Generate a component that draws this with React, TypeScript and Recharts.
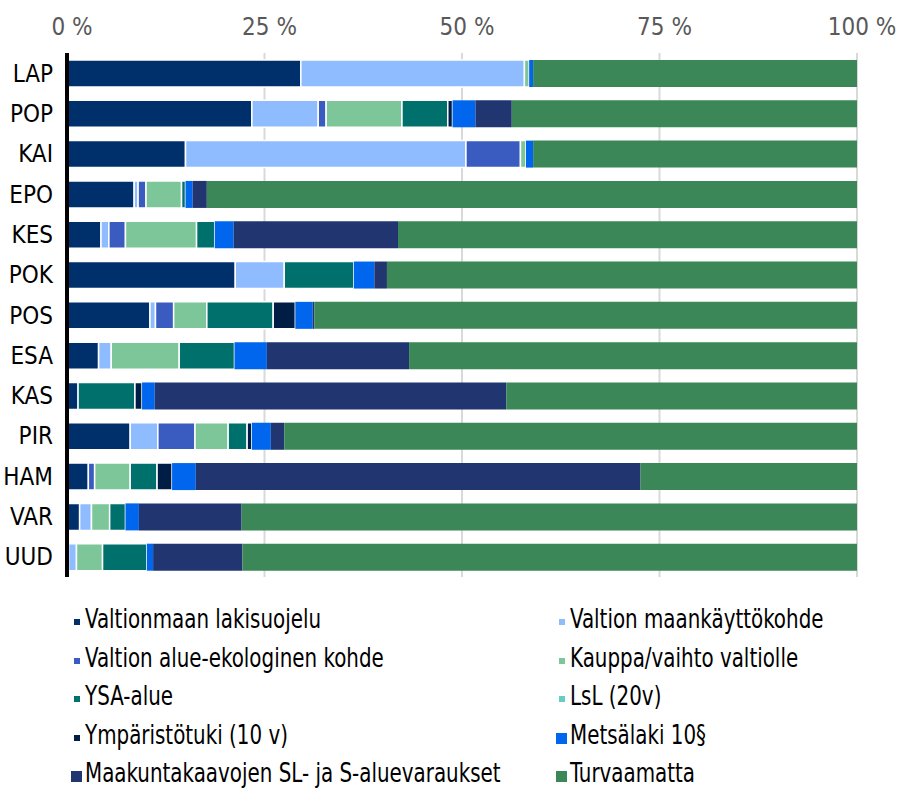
import { BarChart, Bar, XAxis, YAxis, CartesianGrid } from 'recharts';

const regions = ['LAP', 'POP', 'KAI', 'EPO', 'KES', 'POK', 'POS', 'ESA', 'KAS', 'PIR', 'HAM', 'VAR', 'UUD'];

// osuudet (%) maakunnittain
const valtionmaan = [29.6, 23.4, 15.0, 8.5, 4.3, 21.3, 10.5, 4.0, 1.4, 8.0, 2.7, 1.6, 0.2];
const maankaytto = [28.3, 8.4, 35.5, 0.5, 1.0, 6.2, 0.7, 1.6, 0, 3.5, 0, 1.5, 1.0];
const alueEko = [0, 1.0, 6.9, 1.0, 2.1, 0, 2.3, 0, 0, 4.7, 0.8, 0, 0];
const kauppa = [0.6, 9.6, 0.7, 4.5, 9.0, 0, 4.2, 8.6, 0, 4.2, 4.5, 2.3, 3.3];
const ysa = [0, 5.8, 0, 0.5, 2.3, 8.8, 8.4, 7.0, 7.2, 2.4, 3.4, 2.0, 5.6];
const lsl = [0, 0, 0, 0, 0, 0, 0, 0, 0, 0, 0, 0, 0];
const ymparistotuki = [0, 0.6, 0, 0, 0, 0, 2.8, 0, 0.9, 0.6, 1.9, 0, 0];
const metsalaki = [0.5, 2.9, 0.9, 0.9, 2.4, 2.6, 2.2, 4.1, 1.6, 2.4, 3.0, 1.7, 0.8];
const maakunta = [0, 4.6, 0, 1.8, 20.8, 1.6, 0.2, 18.0, 44.5, 1.7, 56.3, 13.0, 11.3];
const turvaamatta = [41.0, 43.7, 41.0, 82.3, 58.1, 59.5, 68.7, 56.7, 44.4, 72.5, 27.4, 77.9, 77.8];

const xTicks = [0, 25, 50, 75, 100];

const series = [
  { key: 'valtionmaan', name: 'Valtionmaan lakisuojelu', color: '#00306b', values: valtionmaan, border: true },
  { key: 'maankaytto', name: 'Valtion maankäyttökohde', color: '#8fbcff', values: maankaytto, border: true },
  { key: 'alueEko', name: 'Valtion alue-ekologinen kohde', color: '#3a5bbf', values: alueEko, border: true },
  { key: 'kauppa', name: 'Kauppa/vaihto valtiolle', color: '#7cc69a', values: kauppa, border: true },
  { key: 'ysa', name: 'YSA-alue', color: '#00706c', values: ysa, border: true },
  { key: 'lsl', name: 'LsL (20v)', color: '#66ccc4', values: lsl, border: true },
  { key: 'ymparistotuki', name: 'Ympäristötuki (10 v)', color: '#001e45', values: ymparistotuki, border: true },
  { key: 'metsalaki', name: 'Metsälaki 10§', color: '#0066ee', values: metsalaki, border: false },
  { key: 'maakunta', name: 'Maakuntakaavojen SL- ja S-aluevaraukset', color: '#213670', values: maakunta, border: false },
  { key: 'turvaamatta', name: 'Turvaamatta', color: '#3b8757', values: turvaamatta, border: false },
];

const data = regions.map((region, i) => {
  const row: Record<string, string | number> = { region };
  series.forEach((s) => {
    row[s.key] = s.values[i];
  });
  return row;
});

const FONT = "'DejaVu Sans Condensed', 'DejaVu Sans', sans-serif";

function LegendItem({ s, x, y }: { s: (typeof series)[number]; x: number; y: number }) {
  const size = s.border ? 6 : 11;
  return (
    <div style={{ position: 'absolute', left: x, top: y - 17, height: 34, display: 'flex', alignItems: 'center' }}>
      <div style={{ width: 15, display: 'flex', justifyContent: 'center', marginRight: 1 }}>
        <span style={{ width: size, height: size, background: s.color, display: 'block', marginTop: 6 }} />
      </div>
      {/* kapea kirjasin puuttuu, joten teksti puristetaan vaakasuunnassa */}
      <span
        style={{
          fontSize: 26,
          color: '#000',
          whiteSpace: 'nowrap',
          display: 'inline-block',
          transform: 'scaleX(0.85)',
          transformOrigin: 'left center',
        }}
      >
        {s.name}
      </span>
    </div>
  );
}

export default function App() {
  const rowsY = [619, 658, 696, 735, 773];
  return (
    <div style={{ position: 'absolute', left: 0, top: 0, width: 904, height: 792, background: '#fff', fontFamily: FONT }}>
      <BarChart
        width={904}
        height={580}
        data={data}
        layout="vertical"
        barSize={27}
        margin={{ top: 0, right: 47, left: 0, bottom: 3 }}
      >
        <CartesianGrid horizontal={false} stroke="#d9d9d9" strokeWidth={2} />
        <XAxis
          type="number"
          orientation="top"
          domain={[0, 100]}
          ticks={xTicks}
          height={53}
          axisLine={false}
          tickLine={false}
          tickMargin={12}
          tickFormatter={(v: number) => `${v} %`}
          tick={{ fill: '#595959', fontSize: 24, dx: 5 }}
        />
        <YAxis
          type="category"
          dataKey="region"
          width={67}
          tickLine={false}
          axisLine={{ stroke: '#000', strokeWidth: 4 }}
          tickMargin={8}
          tick={{ fill: '#000', fontSize: 24 }}
        />
        {series.map((s) => (
          <Bar
            key={s.key}
            dataKey={s.key}
            name={s.name}
            stackId="a"
            fill={s.color}
            stroke={s.border ? '#ffffff' : 'none'}
            strokeWidth={s.border ? 1.5 : 0}
            isAnimationActive={false}
          />
        ))}
      </BarChart>
      {series.map((s, i) => (
        <LegendItem key={s.key} s={s} x={i % 2 === 0 ? 69 : 554} y={rowsY[Math.floor(i / 2)]} />
      ))}
    </div>
  );
}
